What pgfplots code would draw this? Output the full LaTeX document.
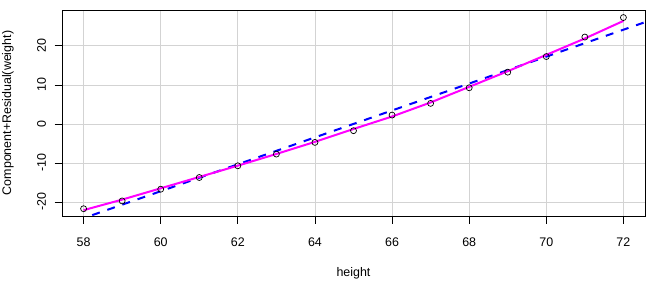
\documentclass[border=0pt]{standalone}
\usepackage{pgfplots}
\pgfplotsset{compat=1.18}
\usepackage{fontspec}
\setmainfont{Liberation Sans}
\definecolor{rmag}{HTML}{FF00FF}
\definecolor{rblue}{HTML}{0000FF}
\definecolor{rgrid}{HTML}{D3D3D3}
\begin{document}
\begin{tikzpicture}
\useasboundingbox (-62bp,-69bp) rectangle (590bp,216bp);
\begin{axis}[
  scale only axis, width=583bp, height=206bp,
  xmin=57.44, xmax=72.56, ymin=-23.6, ymax=29.2,
  xtick={58,60,...,72}, ytick={-20,-10,...,20},
  tick pos=left,
  grid=major, grid style={color=rgrid, line width=0.8bp},
  axis line style={black, line width=0.8bp},
  tick align=outside, major tick length=7.5bp,
  tick style={black, line width=0.8bp},
  font=\fontsize{12.5}{15}\selectfont,
  /pgf/number format/assume math mode=true,
  ticklabel style={font=\fontsize{12.5}{15}\selectfont},
  yticklabel style={rotate=90, anchor=south},
  xticklabel shift={11bp},
  yticklabel shift={5bp},
  xlabel={height},
  ylabel={Component+Residual(weight)},
  xlabel style={at={(axis description cs:0.5,-0.2767)}, anchor=center},
  ylabel style={at={(axis description cs:-0.0926,0.5)}, anchor=center},
  clip=true,
]
\addplot[rblue, line width=2bp, dash pattern=on 8bp off 8bp, line cap=butt] coordinates {
  (57.44,-26.08) (72.56,26.08)
};
\addplot[rmag, line width=2bp] coordinates {
  (58,-22.1) (59,-19.4) (60,-16.5) (61,-13.6) (62,-10.7) (63,-7.7) (64,-4.6)
  (65,-1.3) (66,1.9) (67,5.5) (68,9.5) (69,13.5) (70,17.7) (71,21.9) (72,26.4)
};
\addplot[only marks, mark=o, mark size=3bp, mark options={black, line width=0.7bp}] coordinates {
  (58,-21.733) (59,-19.733) (60,-16.733) (61,-13.733) (62,-10.733) (63,-7.733)
  (64,-4.733) (65,-1.733) (66,2.267) (67,5.267) (68,9.267) (69,13.267)
  (70,17.267) (71,22.267) (72,27.267)
};
\end{axis}
\end{tikzpicture}
\end{document}
